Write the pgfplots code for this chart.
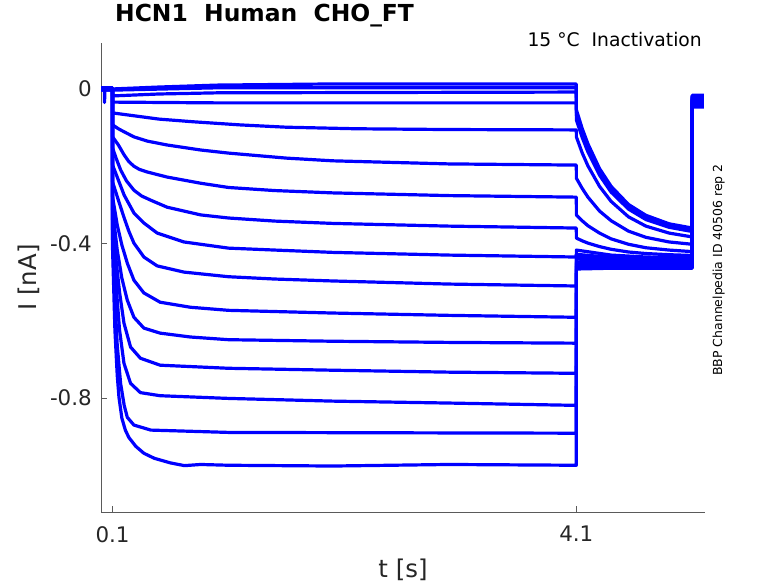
\documentclass[border=0pt]{standalone}
\usepackage{pgfplots}
\pgfplotsset{compat=1.18}
\usepackage{fontspec}
\setmainfont{DejaVu Sans}
\definecolor{trace}{RGB}{0,0,255}
\definecolor{axgray}{RGB}{90,90,90}
\definecolor{txt}{RGB}{38,38,38}
\tikzset{tr/.style={trace, line width=3.2bp, line join=round, mark=none, solid}}
\begin{document}
\begin{tikzpicture}
\path[use as bounding box] (0,0) rectangle (778bp,583bp);
\begin{axis}[
  at={(101bp,71bp)}, anchor=south west,
  scale only axis, width=604bp, height=469bp,
  xmin=0, xmax=5.21, ymin=-1.095, ymax=0.119,
  axis lines=left, axis line style={-, axgray, line width=0.8bp},
  xtick={0.1,4.1}, xticklabels={0.1,4.1},
  ytick={-0.8,-0.4,0}, yticklabels={-0.8,-0.4,0},
  tick align=inside, major tick length=6bp,
  tick style={axgray, line width=0.8bp},
  ticklabel style={font=\fontsize{21.5}{24}\selectfont, text=txt, inner sep=0pt},
  xticklabel style={anchor=north, yshift=-14bp},
  yticklabel style={anchor=east, xshift=-9bp},
  xlabel={t [s]}, ylabel={I [nA]},
  label style={font=\fontsize{24.5}{28}\selectfont, text=txt, inner sep=0pt},
  xlabel style={at={(axis description cs:0.5,-0.1386)}, anchor=base},
  ylabel style={at={(axis description cs:-0.106,0.5)}, anchor=base},
  title={HCN1\ \ Human\ \ CHO\_FT},
  title style={at={(axis description cs:0,1)}, anchor=base west, inner sep=0pt,
    font=\bfseries\fontsize{23.5}{28}\selectfont, text=black, xshift=14bp, yshift=16bp},
]
% T1
\addplot[tr] coordinates {(0,0.003)(0.03,0.003)(0.031,-0.035)(0.033,0.003)(0.0995,0.003)(0.1,0.000)(0.5,0.005)(1.0,0.010)(2.0,0.013)(4.1,0.013)
(4.1005,-0.054)(4.15,-0.102)(4.2,-0.142)(4.3,-0.206)(4.4,-0.252)(4.55,-0.299)(4.7,-0.327)(4.9,-0.349)(5.1,-0.360)(5.1005,-0.016)(5.2,-0.016)};
% T2
\addplot[tr] coordinates {(0,0.001)(0.0995,0.001)(0.1,-0.003)(1.0,0.003)(4.1,0.003)
(4.1005,-0.060)(4.15,-0.107)(4.2,-0.147)(4.3,-0.210)(4.4,-0.256)(4.55,-0.302)(4.7,-0.330)(4.9,-0.352)(5.1,-0.363)(5.1005,-0.018)(5.2,-0.018)};
% T3
\addplot[tr] coordinates {(0,-0.002)(0.0995,-0.002)(0.1,-0.018)(0.5,-0.013)(1.0,-0.010)(4.1,-0.008)
(4.1005,-0.067)(4.15,-0.114)(4.2,-0.153)(4.3,-0.215)(4.4,-0.260)(4.55,-0.306)(4.7,-0.333)(4.9,-0.355)(5.1,-0.366)(5.1005,-0.018)(5.2,-0.018)};
% T4
\addplot[tr] coordinates {(0,0)(0.0995,0)(0.1,-0.034)(1.0,-0.036)(4.1,-0.036)
(4.1005,-0.080)(4.15,-0.125)(4.2,-0.163)(4.3,-0.223)(4.4,-0.267)(4.55,-0.311)(4.7,-0.338)(4.9,-0.358)(5.1,-0.369)(5.1005,-0.021)(5.2,-0.021)};
% T5
\addplot[tr] coordinates {(0,-0.003)(0.0995,-0.003)(0.1,-0.062)(0.3,-0.070)(0.5,-0.078)(0.8,-0.085)(1.2,-0.093)(1.6,-0.099)(2.2,-0.103)(3.0,-0.105)(4.1,-0.106)
(4.1005,-0.124)(4.15,-0.165)(4.2,-0.199)(4.3,-0.252)(4.4,-0.291)(4.55,-0.331)(4.7,-0.355)(4.9,-0.373)(5.1,-0.383)(5.1005,-0.023)(5.2,-0.023)};
% T6
\addplot[tr] coordinates {(0,0.002)(0.0995,0.002)(0.1,-0.093)(0.15,-0.103)(0.2,-0.111)(0.284,-0.124)(0.4,-0.135)(0.57,-0.145)(0.86,-0.158)(1.1,-0.166)(1.6,-0.179)(2.0,-0.186)(3.0,-0.194)(4.1,-0.197)
(4.1005,-0.231)(4.15,-0.257)(4.2,-0.280)(4.3,-0.316)(4.4,-0.341)(4.55,-0.368)(4.7,-0.384)(4.9,-0.396)(5.1,-0.402)(5.1005,-0.026)(5.2,-0.026)};
% T7
\addplot[tr] coordinates {(0,-0.001)(0.0995,-0.001)(0.1,-0.124)(0.15,-0.145)(0.2,-0.171)(0.24,-0.188)(0.284,-0.200)(0.33,-0.208)(0.4,-0.215)(0.57,-0.228)(0.86,-0.244)(1.1,-0.255)(1.5,-0.263)(2.0,-0.269)(3.0,-0.276)(4.1,-0.280)
(4.1005,-0.326)(4.15,-0.341)(4.2,-0.354)(4.3,-0.373)(4.4,-0.388)(4.55,-0.402)(4.7,-0.411)(4.9,-0.417)(5.1,-0.421)(5.1005,-0.028)(5.2,-0.028)};
% T8
\addplot[tr] coordinates {(0,0.001)(0.0995,0.001)(0.1,-0.153)(0.13,-0.179)(0.17,-0.210)(0.22,-0.238)(0.284,-0.262)(0.35,-0.277)(0.43,-0.288)(0.57,-0.306)(0.86,-0.326)(1.1,-0.334)(1.5,-0.342)(2.0,-0.348)(3.0,-0.355)(4.1,-0.360)
(4.1005,-0.386)(4.15,-0.393)(4.2,-0.399)(4.3,-0.408)(4.4,-0.415)(4.55,-0.422)(4.7,-0.426)(4.9,-0.429)(5.1,-0.431)(5.1005,-0.028)(5.2,-0.028)};
% T9
\addplot[tr] coordinates {(0,-0.002)(0.0995,-0.002)(0.1,-0.197)(0.15,-0.236)(0.2,-0.275)(0.284,-0.321)(0.37,-0.347)(0.485,-0.373)(0.715,-0.396)(1.1,-0.412)(1.5,-0.417)(2.0,-0.423)(3.0,-0.430)(4.1,-0.435)
(4.1005,-0.417)(4.4,-0.430)(4.7,-0.435)(5.1,-0.437)(5.1005,-0.031)(5.2,-0.031)};
% T10
\addplot[tr] coordinates {(0,0)(0.0995,0)(0.1,-0.241)(0.15,-0.288)(0.2,-0.334)(0.24,-0.368)(0.284,-0.399)(0.37,-0.435)(0.485,-0.458)(0.715,-0.474)(1.1,-0.486)(1.5,-0.492)(2.0,-0.497)(3.0,-0.505)(4.1,-0.510)
(4.1005,-0.428)(4.4,-0.436)(4.7,-0.439)(5.1,-0.440)(5.1005,-0.034)(5.2,-0.034)};
% T11
\addplot[tr] coordinates {(0,0.002)(0.0995,0.002)(0.1,-0.280)(0.14,-0.352)(0.18,-0.404)(0.227,-0.451)(0.284,-0.495)(0.37,-0.528)(0.51,-0.552)(0.77,-0.565)(1.1,-0.573)(2.0,-0.580)(3.0,-0.586)(4.1,-0.591)
(4.1005,-0.435)(4.4,-0.442)(4.7,-0.444)(5.1,-0.445)(5.1005,-0.036)(5.2,-0.036)};
% T12
\addplot[tr] coordinates {(0,-0.001)(0.0995,-0.001)(0.1,-0.313)(0.14,-0.417)(0.18,-0.490)(0.227,-0.547)(0.284,-0.591)(0.37,-0.619)(0.51,-0.632)(0.77,-0.642)(1.1,-0.649)(2.0,-0.653)(3.0,-0.656)(4.1,-0.658)
(4.1005,-0.440)(4.4,-0.446)(4.7,-0.447)(5.1,-0.448)(5.1005,-0.036)(5.2,-0.036)};
% T13
\addplot[tr] coordinates {(0,0.001)(0.0995,0.001)(0.1,-0.339)(0.13,-0.443)(0.16,-0.526)(0.198,-0.606)(0.255,-0.668)(0.34,-0.697)(0.51,-0.715)(1.1,-0.723)(2.0,-0.728)(3.0,-0.733)(4.1,-0.736)
(4.1005,-0.448)(4.4,-0.450)(5.1,-0.451)(5.1005,-0.039)(5.2,-0.039)};
% T14
\addplot[tr] coordinates {(0,-0.002)(0.0995,-0.002)(0.1,-0.365)(0.13,-0.508)(0.16,-0.624)(0.198,-0.710)(0.255,-0.762)(0.34,-0.786)(0.51,-0.794)(1.1,-0.801)(2.0,-0.808)(3.0,-0.813)(4.1,-0.819)
(4.1005,-0.453)(4.4,-0.455)(5.1,-0.456)(5.1005,-0.041)(5.2,-0.041)};
% T15
\addplot[tr] coordinates {(0,0)(0.0995,0)(0.1,-0.391)(0.12,-0.547)(0.14,-0.663)(0.169,-0.762)(0.2,-0.819)(0.227,-0.850)(0.284,-0.870)(0.43,-0.883)(1.1,-0.889)(2.5,-0.890)(4.1,-0.891)
(4.1005,-0.459)(5.1,-0.459)(5.1005,-0.044)(5.2,-0.044)};
% T16
\addplot[tr] coordinates {(0,0.002)(0.0995,0.002)(0.1,-0.417)(0.12,-0.624)(0.14,-0.741)(0.155,-0.798)(0.18,-0.852)(0.21,-0.883)(0.24,-0.902)(0.3,-0.925)(0.37,-0.943)(0.46,-0.956)(0.6,-0.968)(0.72,-0.975)(0.86,-0.972)(1.1,-0.974)(2.0,-0.976)(3.0,-0.972)(4.1,-0.974)
(4.1005,-0.466)(4.4,-0.464)(5.1,-0.464)(5.1005,-0.047)(5.2,-0.047)};
\end{axis}
\node[anchor=base east, inner sep=0pt, font=\fontsize{18.8}{22}\selectfont, text=black]
  at (702bp,536.3bp) {15 °C\ \ Inactivation};
\node[rotate=90, anchor=base, inner sep=0pt, font=\fontsize{12.5}{14}\selectfont, text=black]
  at (722bp,313bp) {BBP Channelpedia ID 40506 rep 2};
\end{tikzpicture}
\end{document}
